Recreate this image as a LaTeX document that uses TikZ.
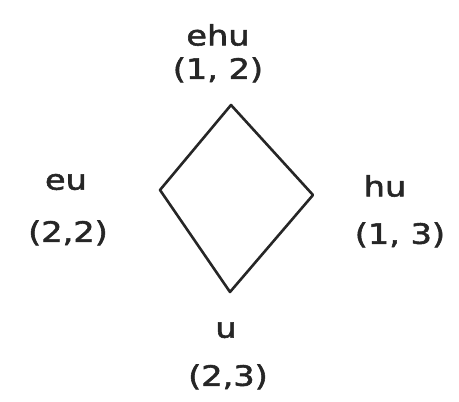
\documentclass[tikz,border=0pt]{standalone}
\usepackage{fontspec}
\setmainfont[FakeStretch=1.2,FakeBold=2]{DejaVu Sans}
\begin{document}
\begin{tikzpicture}[x=1pt,y=-1pt,
  lbl/.style={font=\fontsize{28}{32}\selectfont, inner sep=0pt, text=black!85},
  edge/.style={line width=2.6pt, line join=round, line cap=round, black!85}]
\useasboundingbox (0,0) rectangle (459,402);
\coordinate (top) at (231,105);
\coordinate (left) at (160,190);
\coordinate (right) at (313,195);
\coordinate (bottom) at (230,292);
\draw[edge] (top) -- (right) -- (bottom) -- (left) -- cycle;
\node[lbl] (ehu) at (218,35) {ehu};
\node[lbl] (p12) at (218,70) {(1, 2)};
\node[lbl] (eu) at (66,182) {eu};
\node[lbl] (p22) at (68,233) {(2,2)};
\node[lbl] (hu) at (385,186) {hu};
\node[lbl] (p13) at (400,235) {(1, 3)};
\node[lbl] (u) at (226,330) {u};
\node[lbl] (p23) at (228,377) {(2,3)};
\end{tikzpicture}
\end{document}
